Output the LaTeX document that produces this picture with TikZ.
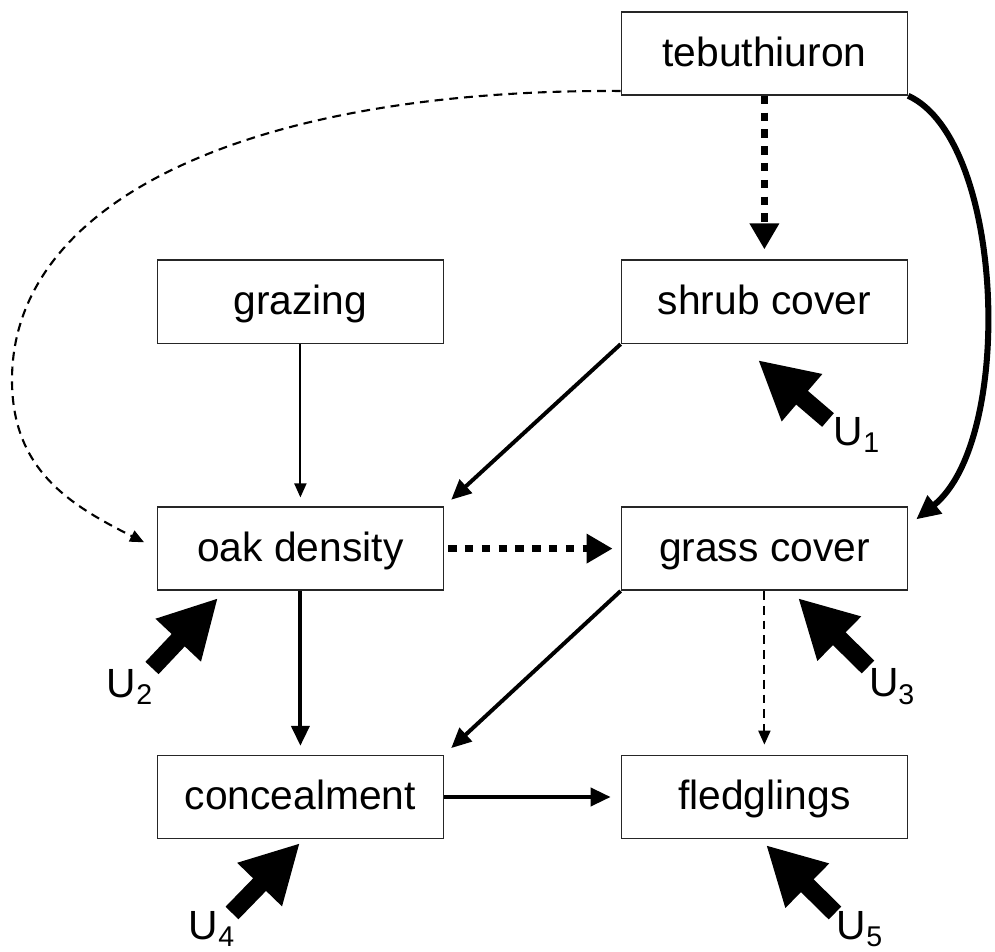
\documentclass[tikz,border=0pt]{standalone}
\usepackage{fontspec}
\setmainfont{Liberation Sans}
\usetikzlibrary{arrows.meta}

\begin{document}
\begin{tikzpicture}[
	box/.style={draw=black!85, line width=1.1pt, minimum width=7.15cm, minimum height=2.08cm,
		inner sep=0pt, text height=24pt, text depth=6pt, font=\fontsize{29}{35}\selectfont},
	solidline/.style={line width=2.8pt, -{Triangle[length=0.5cm, width=0.45cm]}},
	slimline/.style={line width=1.4pt, -{Triangle[length=0.35cm, width=0.3cm]}},
	dashline/.style={line width=1.5pt, dash pattern=on 0.22cm off 0.15cm, -{Triangle[length=0.35cm, width=0.3cm]}},
	dotline/.style={line width=5pt, dash pattern=on 0.21cm off 0.21cm, -{Triangle[length=0.65cm, width=0.7cm]}},
	curveline/.style={line width=4.3pt, -{Triangle[length=0.6cm, width=0.55cm]}},
	errarrow/.style={line width=0.45cm, -{Triangle[length=1.45cm, width=1.45cm]}},
	ulabel/.style={font=\fontsize{29}{35}\selectfont}
]

	\useasboundingbox (0,0) rectangle (24.875,23.775);

	\node[box] (teb) at (19.11,22.44) {tebuthiuron};
	\node[box] (grazing) at (7.51,16.23) {grazing};
	\node[box] (shrub) at (19.11,16.23) {shrub cover};
	\node[box] (oak) at (7.51,10.06) {oak density};
	\node[box] (grass) at (19.11,10.06) {grass cover};
	\node[box] (conceal) at (7.51,3.85) {concealment};
	\node[box] (fledge) at (19.11,3.85) {fledglings};

	% paths between the boxes
	\draw[dotline, shorten >=0.25cm] (teb) -- (shrub);
	\draw[slimline, shorten >=0.22cm] (grazing) -- (oak);
	\draw[solidline, shorten >=0.24cm] (shrub.south west) -- (oak.north east);
	\draw[dotline, shorten <=0.1cm, shorten >=0.2cm] (oak) -- (grass);
	\draw[solidline, shorten >=0.22cm] (oak) -- (conceal);
	\draw[solidline, shorten >=0.24cm] (grass.south west) -- (conceal.north east);
	\draw[dashline, shorten >=0.25cm] (grass) -- (fledge);
	\draw[solidline, shorten >=0.25cm] (conceal) -- (fledge);

	\draw[curveline] (teb.south east) .. controls (25.125,20.275) and (25.375,12.775)
		.. ([xshift=0.2cm, yshift=-0.33cm]grass.north east);
	\draw[dashline, shorten >=0.35cm] ([yshift=0.12cm]teb.south west)
		.. controls (6.25,21.55) and (0.3,18.775) .. (0.3,14.275)
		.. controls (0.3,12.025) and (1.75,11.15) .. (oak.west);

	% error terms
	\coordinate (e1) at (20.7,13.275);
	\coordinate (e1tip) at (18.95,14.775);
	\coordinate (e2) at (3.8,7.075);
	\coordinate (e2tip) at (5.45,8.825);
	\coordinate (e3) at (21.7,7.1);
	\coordinate (e3tip) at (19.95,8.825);
	\coordinate (e4) at (5.8,0.95);
	\coordinate (e4tip) at (7.5,2.7);
	\coordinate (e5) at (20.875,0.95);
	\coordinate (e5tip) at (19.15,2.65);

	\draw[errarrow] (e1) -- (e1tip);
	\draw[errarrow] (e2) -- (e2tip);
	\draw[errarrow] (e3) -- (e3tip);
	\draw[errarrow] (e4) -- (e4tip);
	\draw[errarrow] (e5) -- (e5tip);

	\node[ulabel] (u1) at (21.425,12.9) {U\textsubscript{1}};
	\node[ulabel] (u2) at (3.25,6.6) {U\textsubscript{2}};
	\node[ulabel] (u3) at (22.3,6.6) {U\textsubscript{3}};
	\node[ulabel] (u4) at (5.3,0.55) {U\textsubscript{4}};
	\node[ulabel] (u5) at (21.5,0.55) {U\textsubscript{5}};

\end{tikzpicture}
\end{document}
